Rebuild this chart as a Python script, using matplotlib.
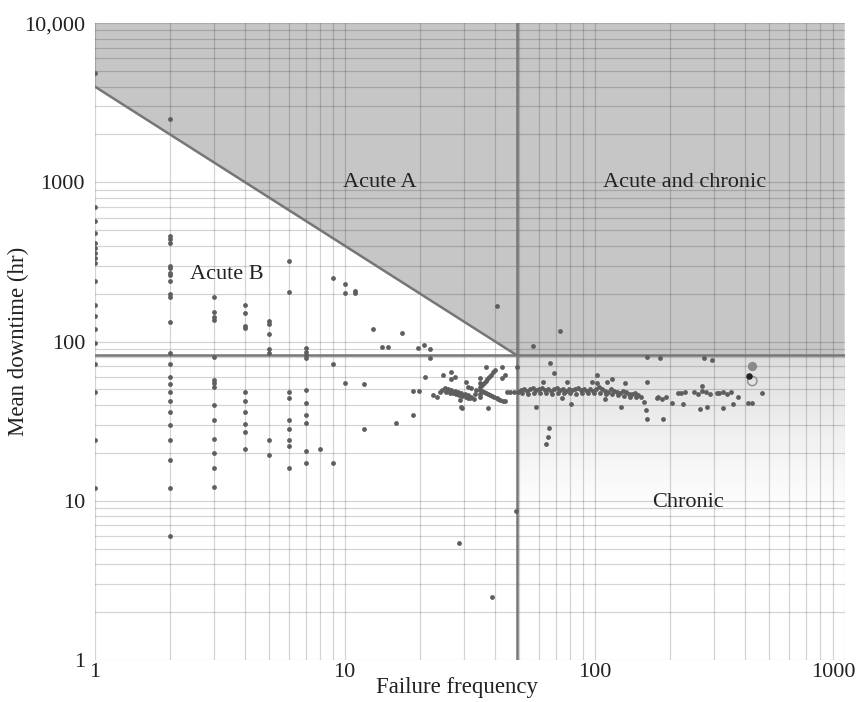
import numpy as np
import matplotlib.pyplot as plt
from matplotlib.transforms import ScaledTranslation

plt.rcParams['font.family'] = ['Liberation Serif', 'DejaVu Serif']

# region limits
total_downtime_limit = 4000   # hr, diagonal: frequency * downtime
freq_limit = 48.8
downtime_limit = 82

# mean downtime of the low frequency items, one list per failure count
dt_1 = [4850, 700, 570, 480, 415, 387, 360, 334, 311, 240, 170, 145, 120, 98, 72, 48, 24, 12]
dt_2 = [2500, 460, 440, 415, 300, 290, 270, 260, 240, 200, 190, 132, 85, 72, 60, 54, 48, 42,
        36, 30, 24, 18, 12, 6]
dt_3 = [190, 153, 142, 136, 80, 57, 55, 52, 40, 32, 24.5, 20, 16, 12.2]
dt_4 = [170, 150, 126, 122, 48, 42, 36, 30.4, 27, 21]
dt_5 = [135, 128, 111, 90, 85, 24, 19.5]
dt_6 = [320, 205, 48, 44, 32, 28.2, 24, 22, 16]
dt_7 = [91, 86, 82, 79, 49.6, 41, 34.4, 30.9, 20.5, 17.2]
dt_8 = [21]
dt_9 = [250, 72, 17.2]
dt_10 = [230, 202, 55]
dt_11 = [207, 202]
dt_12 = [54, 28.2]
dt_13 = [120]

# scattered items between 14 and 50 failures
mid_x = [14.1, 14.9, 16.0, 16.9, 18.7, 18.7, 19.9, 19.7, 20.7, 20.9, 21.9, 21.9, 28.6, 38.7,
         40.5, 48.5, 36.7, 42.7, 43.7, 42.4, 37.6]
mid_y = [92, 92, 30.8, 113, 49, 34.5, 49, 91, 95, 60, 90, 79, 5.4, 2.5,
         168, 8.6, 69, 69, 61.6, 58.9, 38.1]

# dense group around 25-45 failures
cluster_x = [22.6, 23.3, 24.0, 24.4, 25.1, 25.9, 26.7, 27.5, 28.3, 29.2, 30.2, 31.1, 32.1,
             24.7, 26.7, 27.5, 26.7, 30.5, 31.1, 32.1, 28.8, 29.2, 29.6, 31.1,
             25.5, 26.3, 27.0, 27.9, 28.7, 29.6, 30.6, 31.6, 33.0,
             34.7, 34.7, 34.7, 34.7, 34.7, 34.7, 33.6, 33.1,
             36.0, 37.2, 38.5, 39.8, 36.0, 37.5, 39.0, 40.5, 42.0, 43.7,
             35.3, 36.6, 37.8, 39.1, 35.3, 36.8, 38.2, 39.7, 41.2, 42.8]
cluster_y = [46.1, 45.0, 48.3, 49.6, 50.9, 50.1, 49.6, 48.8, 48.3, 47.5, 46.7, 46.1, 45.0,
             61.6, 64.6, 59.5, 57.8, 56.0, 52.0, 50.9, 42.9, 38.7, 38.1, 44.0,
             48.0, 47.6, 47.2, 46.8, 46.0, 45.5, 44.8, 44.2, 43.6,
             59, 55, 52, 49.6, 47, 45, 49.6, 47,
             55, 58, 62, 66, 48.5, 47, 45.5, 44.3, 43, 42,
             53.5, 56.5, 60, 64, 49, 47.7, 46.2, 45, 43.6, 42.5]

# main band of chronic items
band_x = [44.5, 46.0, 47.5, 49.2, 50.6, 52.0, 53.5, 55.0, 56.5, 58.1, 59.7, 61.4, 63.1, 64.9,
          66.7, 68.5, 70.5, 72.4, 74.5, 76.6, 78.7, 80.9, 83.2, 85.5, 87.9, 90.4, 92.9, 95.5,
          98.2, 100.9, 103.8, 106.7, 109.6, 112.7, 115.9, 119.1, 122.5, 125.9, 129.4, 133.0,
          136.8, 140.6, 144.5, 148.6, 152.8, 178.6, 185.4, 192.3, 215, 221, 229, 249, 258,
          268, 278, 288, 313, 325, 337, 350]
band_y = [48.3, 48.3, 48.5, 48.5, 49.5, 50.5, 49, 50, 51, 49.5, 50, 51, 49.5, 50.5,
          49, 50, 51, 49.5, 50, 49, 50.5, 49.5, 50, 51, 49.5, 50.5, 49, 50,
          49, 50.5, 52, 50, 49, 48, 50, 49, 48.5, 47.5, 49, 48,
          47, 46.5, 47.5, 46, 45, 44.5, 43.5, 45, 47.5, 47.5, 48, 48.5, 47,
          49, 48, 46.5, 47.5, 48.5, 47, 48]
band2_x = [51.3, 54.2, 57.3, 60.5, 64.0, 67.6, 71.4, 75.5, 79.8, 84.3, 89.1, 94.2, 99.5,
           105.2, 111.2, 117.5, 124.2, 131.2, 138.7, 146.5]
band2_y = [47.5, 47, 47.8, 47.2, 47.6, 47, 47.8, 47.3, 47.6, 47, 47.5, 47.2, 47.8,
           47.5, 47, 46.5, 46.2, 45.5, 45, 44.5]

# scattered chronic items
chronic_x = [72.4, 56.5, 48.8, 66, 69, 62, 77.5, 58.5, 65.5, 65, 64, 97.5, 102, 102, 112, 117,
             110, 80.5, 74, 132, 128, 162, 182, 162, 158, 160, 162, 187, 177, 203, 225, 263,
             282, 327, 356, 376, 268, 309, 410, 425, 467, 275, 296]
chronic_y = [116, 94, 69, 73, 63, 55.6, 55.6, 39, 28.6, 25, 22.8, 56, 61.6, 55, 56, 58,
             43.6, 40.5, 44, 55, 39, 79.6, 79, 55.6, 41.5, 37, 32.6, 32.6, 44, 41, 40.5, 37.6,
             39, 38, 40.5, 45, 52.5, 47.5, 41, 41, 47.5, 79, 76.5]

# three highlighted items at the far right
hl_x = [427, 414, 427]
hl_y = [70, 60.6, 56.5]

fig = plt.figure(figsize=(8.61, 7.02), dpi=100)
ax = fig.add_axes([0.110, 0.060, 0.871, 0.907])
ax.set_xscale('log')
ax.set_yscale('log')
ax.set_xlim(1, 1000)
ax.set_ylim(1, 10000)
ax.set_autoscale_on(False)

# shaded acute region
knee_y = total_downtime_limit / freq_limit
ax.fill([1, 1, freq_limit, 1000, 1000], [10000, total_downtime_limit, downtime_limit,
        downtime_limit, 10000], color='#c6c6c6', lw=0, zorder=0)

# fading chronic region
fx = np.log10(freq_limit) / 3
fy = np.log10(downtime_limit) / 4
alpha = np.clip((np.linspace(0, 1, 200) - 0.45) / 0.55, 0, 1)[:, None] ** 1.3 * 0.6
rgba = np.zeros((200, 1, 4))
rgba[..., :3] = 0.78
rgba[..., 3] = alpha
ax.imshow(rgba, extent=(fx, 1, 0, fy), origin='lower', aspect='auto',
          transform=ax.transAxes, zorder=0, interpolation='bilinear')

ax.grid(True, which='both', color='k', alpha=0.17, lw=0.9, zorder=1)
ax.set_axisbelow(True)

# boundaries
line_kw = dict(color='#767676', lw=1.8, zorder=2)
ax.plot([1, freq_limit], [total_downtime_limit, knee_y], **line_kw)
ax.plot([1, 1000], [downtime_limit, downtime_limit], **line_kw)
ax.plot([freq_limit, freq_limit], [1, 10000], **line_kw)

# points
cols = [dt_1, dt_2, dt_3, dt_4, dt_5, dt_6, dt_7, dt_8, dt_9, dt_10, dt_11, dt_12, dt_13]
low_x = [i + 1 for i, c in enumerate(cols) for _ in c]
low_y = [v for c in cols for v in c]
dot = dict(s=12, color='#5e5e5e', lw=0, zorder=3)
ax.scatter(low_x, low_y, **dot)
ax.scatter(mid_x, mid_y, **dot)
ax.scatter(cluster_x, cluster_y, **dot)
ax.scatter(band_x, band_y, **dot)
ax.scatter(band2_x, band2_y, **dot)
ax.scatter(chronic_x, chronic_y, **dot)
ax.scatter(hl_x[0], hl_y[0], s=45, color='#8a8a8a', lw=0, zorder=3)
ax.scatter(hl_x[1], hl_y[1], s=22, color='#222222', lw=0, zorder=4)
ax.scatter(hl_x[2], hl_y[2], s=45, facecolor='none', edgecolor='#8a8a8a', lw=1, zorder=3)

# region labels
lab = dict(fontsize=16, ha='center', va='center', color='#222222', zorder=5)
ax.text(13.8, 1000, 'Acute A', **lab)
ax.text(229, 1000, 'Acute and chronic', **lab)
ax.text(3.37, 262, 'Acute B', **lab)
ax.text(236, 9.7, 'Chronic', **lab)

xticks = [1, 10, 100, 1000]
yticks = [1, 10, 100, 1000, 10000]
ax.set_xticks(xticks, labels=['1', '10', '100', '1000'])
ax.set_yticks(yticks, labels=['1', '10', '100', '1000', '10,000'])
ax.xaxis.set_minor_formatter(plt.NullFormatter())
ax.yaxis.set_minor_formatter(plt.NullFormatter())
ax.tick_params(which='both', length=0, labelsize=16, labelcolor='#222222')
ax.tick_params(axis='y', pad=7)
ax.tick_params(axis='x', pad=2)
last = ax.get_xticklabels()[-1]
last.set_transform(last.get_transform() + ScaledTranslation(-0.11, 0, fig.dpi_scale_trans))
for s in ax.spines.values():
    s.set_visible(False)

ax.set_xlabel('Failure frequency', fontsize=16.5, color='#222222')
ax.xaxis.set_label_coords(0.483, -0.027)
ax.set_ylabel('Mean downtime (hr)', fontsize=16.5, color='#222222')
ax.yaxis.set_label_coords(-0.087, 0.5)

fig.savefig('out.png', dpi=100)
